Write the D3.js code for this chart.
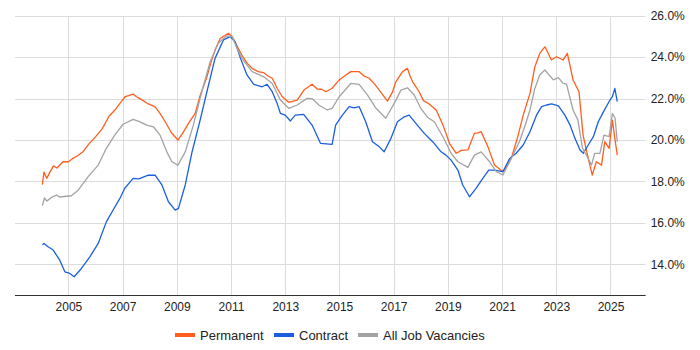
<!DOCTYPE html>
<html>
<head>
<meta charset="utf-8">
<script src="https://cdn.jsdelivr.net/npm/d3@7"></script>
<style>
  body { margin: 0; background: #fff; }
  svg { font-family: Arial, "Liberation Sans", sans-serif; }
</style>
</head>
<body>
<div id="chart"></div>
<script>
(function()
{
    var width = 700;
    var height = 350;

    // decimal year, percent
    var permanent = [[2004.04,17.85],[2004.1,18.45],[2004.2,18.15],[2004.3,18.4],[2004.45,18.75],[2004.58,18.65],[2004.8,18.95],[2005.0,18.95],[2005.15,19.1],[2005.35,19.25],[2005.55,19.45],[2005.75,19.8],[2006.0,20.15],[2006.25,20.55],[2006.5,21.15],[2006.75,21.5],[2006.95,21.85],[2007.1,22.1],[2007.39,22.22],[2007.5,22.1],[2007.7,21.95],[2007.95,21.74],[2008.2,21.6],[2008.4,21.25],[2008.57,20.88],[2008.8,20.35],[2009.04,20.0],[2009.2,20.3],[2009.43,20.8],[2009.68,21.3],[2009.86,22.15],[2010.1,23.0],[2010.25,23.7],[2010.41,24.34],[2010.6,24.9],[2010.9,25.15],[2011.04,25.0],[2011.2,24.6],[2011.4,24.1],[2011.6,23.7],[2011.78,23.46],[2012.0,23.3],[2012.21,23.25],[2012.35,23.1],[2012.52,22.98],[2012.7,22.5],[2012.89,22.09],[2013.13,21.82],[2013.44,21.93],[2013.69,22.41],[2013.99,22.69],[2014.18,22.46],[2014.35,22.45],[2014.5,22.33],[2014.73,22.5],[2014.99,22.9],[2015.2,23.1],[2015.42,23.3],[2015.73,23.3],[2015.9,23.1],[2016.1,22.98],[2016.3,22.7],[2016.47,22.41],[2016.77,21.88],[2016.95,22.3],[2017.08,22.81],[2017.33,23.3],[2017.51,23.46],[2017.6,23.1],[2017.7,22.81],[2017.94,22.33],[2018.1,21.9],[2018.3,21.75],[2018.57,21.45],[2018.82,20.72],[2019.06,19.84],[2019.31,19.36],[2019.5,19.5],[2019.74,19.52],[2019.98,20.32],[2020.1,20.35],[2020.23,20.4],[2020.48,19.67],[2020.72,18.79],[2021.03,18.47],[2021.2,18.8],[2021.34,19.11],[2021.58,20.16],[2021.78,21.2],[2022.03,22.25],[2022.21,23.54],[2022.39,24.18],[2022.58,24.5],[2022.7,24.2],[2022.82,23.86],[2023.01,24.02],[2023.25,23.86],[2023.41,24.18],[2023.62,22.9],[2023.84,22.33],[2023.99,20.24],[2024.18,19.11],[2024.33,18.31],[2024.48,18.95],[2024.67,18.79],[2024.79,19.92],[2024.95,19.6],[2025.07,20.96],[2025.16,20.08],[2025.25,19.27]];

    var contract = [[2004.04,14.95],[2004.1,15.01],[2004.25,14.85],[2004.44,14.69],[2004.68,14.2],[2004.87,13.64],[2005.05,13.56],[2005.21,13.4],[2005.48,13.8],[2005.79,14.36],[2006.1,15.01],[2006.4,16.05],[2006.65,16.62],[2006.9,17.18],[2007.08,17.67],[2007.39,18.15],[2007.6,18.12],[2007.95,18.31],[2008.2,18.3],[2008.45,17.83],[2008.69,17.02],[2008.94,16.62],[2009.06,16.7],[2009.31,17.83],[2009.55,19.36],[2009.86,20.96],[2010.11,22.33],[2010.41,23.94],[2010.72,24.83],[2010.97,24.99],[2011.15,24.74],[2011.35,23.94],[2011.59,23.14],[2011.84,22.69],[2012.15,22.57],[2012.33,22.69],[2012.52,22.33],[2012.7,21.77],[2012.82,21.29],[2013.0,21.2],[2013.19,20.92],[2013.37,21.2],[2013.68,21.24],[2013.99,20.72],[2014.3,19.84],[2014.73,19.79],[2014.86,20.72],[2015.11,21.2],[2015.36,21.61],[2015.54,21.55],[2015.73,21.61],[2015.97,20.88],[2016.22,19.92],[2016.47,19.67],[2016.65,19.43],[2016.9,20.08],[2017.14,20.88],[2017.39,21.12],[2017.57,21.2],[2017.82,20.8],[2018.13,20.32],[2018.3,20.1],[2018.44,19.92],[2018.75,19.43],[2018.93,19.27],[2019.12,19.03],[2019.37,18.55],[2019.55,17.83],[2019.8,17.26],[2020.04,17.67],[2020.29,18.15],[2020.51,18.55],[2020.72,18.55],[2021.03,18.47],[2021.28,19.11],[2021.52,19.36],[2021.78,19.76],[2022.03,20.4],[2022.27,21.2],[2022.46,21.61],[2022.64,21.69],[2022.83,21.75],[2023.08,21.65],[2023.32,21.2],[2023.51,20.72],[2023.69,20.08],[2023.88,19.52],[2024.0,19.36],[2024.18,19.76],[2024.37,20.16],[2024.55,20.88],[2024.74,21.36],[2024.98,21.93],[2025.07,22.09],[2025.16,22.49],[2025.25,21.85]];

    var allJobs = [[2004.04,16.83],[2004.12,17.21],[2004.2,17.05],[2004.4,17.25],[2004.56,17.34],[2004.68,17.25],[2005.11,17.31],[2005.36,17.58],[2005.73,18.23],[2006.1,18.79],[2006.4,19.6],[2006.71,20.24],[2007.02,20.76],[2007.39,21.0],[2007.6,20.9],[2007.89,20.72],[2008.14,20.64],[2008.38,20.24],[2008.63,19.43],[2008.82,18.95],[2009.04,18.79],[2009.31,19.43],[2009.61,20.72],[2009.92,22.33],[2010.23,23.78],[2010.53,24.67],[2010.84,25.03],[2011.04,24.99],[2011.2,24.5],[2011.4,23.94],[2011.78,23.3],[2012.21,23.05],[2012.52,22.73],[2012.82,21.93],[2013.13,21.53],[2013.44,21.69],[2013.81,22.01],[2013.99,22.0],[2014.24,21.69],[2014.55,21.45],[2014.73,21.53],[2014.99,22.09],[2015.42,22.73],[2015.73,22.69],[2016.04,22.17],[2016.35,21.53],[2016.71,21.05],[2017.02,21.77],[2017.27,22.41],[2017.51,22.52],[2017.76,22.17],[2018.0,21.53],[2018.25,21.1],[2018.5,20.88],[2018.82,20.16],[2019.12,19.36],[2019.37,18.95],[2019.74,18.68],[2019.98,19.27],[2020.23,19.43],[2020.54,18.95],[2020.79,18.47],[2021.03,18.31],[2021.34,19.11],[2021.64,19.92],[2021.85,20.7],[2022.03,21.45],[2022.21,22.49],[2022.39,23.14],[2022.58,23.38],[2022.89,22.9],[2023.08,23.01],[2023.25,22.73],[2023.38,22.7],[2023.62,21.45],[2023.8,20.96],[2023.97,19.6],[2024.18,19.11],[2024.3,18.79],[2024.42,19.36],[2024.61,19.36],[2024.76,20.24],[2024.95,20.16],[2025.07,21.29],[2025.17,21.05],[2025.25,19.92]];

    var xTickYears = [2005, 2007, 2009, 2011, 2013, 2015, 2017, 2019, 2021, 2023, 2025];
    var yTicks = [14, 16, 18, 20, 22, 24, 26];
    var seriesNames = ["Permanent", "Contract", "All Job Vacancies"];
    var seriesColors = ["#ff5e1f", "#1a5fe0", "#a3a3a3"];

    function toDate(t) {
        var yr = Math.floor(t);
        var start = new Date(yr, 0, 1), end = new Date(yr + 1, 0, 1);
        return new Date(start.getTime() + (t - yr) * (end - start));
    }

    var left = 15, right = 645.7, top = 15.7, bottom = 295;

    var svg = d3.select("#chart").append("svg")
        .attr("width", width)
        .attr("height", height);

    var x = d3.scaleTime()
        .domain([toDate(2003.03), toDate(2026.3)])
        .range([left, right]);

    var y = d3.scaleLinear()
        .domain([12.52, 26])
        .range([bottom, top]);

    // grid
    svg.append("g").selectAll("line.h").data(yTicks)
        .enter().append("line")
        .attr("x1", left).attr("x2", right)
        .attr("y1", function(d){ return Math.round(y(d)) + 0.5; })
        .attr("y2", function(d){ return Math.round(y(d)) + 0.5; })
        .attr("stroke", "#dcdcdc").attr("stroke-width", 1);

    svg.append("g").selectAll("line.v").data(xTickYears)
        .enter().append("line")
        .attr("x1", function(d){ return Math.round(x(new Date(d, 0, 1))) + 0.5; })
        .attr("x2", function(d){ return Math.round(x(new Date(d, 0, 1))) + 0.5; })
        .attr("y1", top).attr("y2", bottom)
        .attr("stroke", "#dcdcdc").attr("stroke-width", 1);

    // x axis
    var xAxis = d3.axisBottom(x)
        .tickValues(xTickYears.map(function(d){ return new Date(d, 0, 1); }))
        .tickFormat(d3.timeFormat("%Y"))
        .tickSize(0).tickPadding(7);
    var gx = svg.append("g").attr("transform", "translate(0," + bottom + ")").call(xAxis);
    gx.select(".domain").remove();
    gx.selectAll("text").attr("font-size", 12).attr("fill", "#222").attr("font-family", "Arial, 'Liberation Sans', sans-serif");
    svg.append("line")
        .attr("x1", left).attr("x2", right)
        .attr("y1", bottom + 0.5).attr("y2", bottom + 0.5)
        .attr("stroke", "#333").attr("stroke-width", 1);

    // y axis on the right
    var yAxis = d3.axisRight(y)
        .tickValues(yTicks)
        .tickFormat(function(d){ return d3.format(".1f")(d) + "%"; })
        .tickSize(0).tickPadding(5);
    var gy = svg.append("g").attr("transform", "translate(" + right + ",0)").call(yAxis);
    gy.select(".domain").remove();
    gy.selectAll("text").attr("font-size", 12).attr("fill", "#222").attr("font-family", "Arial, 'Liberation Sans', sans-serif");

    // lines
    var line = d3.line()
        .x(function(d){ return x(toDate(d[0])); })
        .y(function(d){ return y(d[1]); });

    [permanent, contract, allJobs].forEach(function(s, i) {
        svg.append("path")
            .datum(s)
            .attr("fill", "none")
            .attr("stroke", seriesColors[i])
            .attr("stroke-width", 1.3)
            .attr("stroke-linejoin", "round")
            .attr("d", line);
    });

    // legend
    var legendX = [175, 274, 358];
    var legend = svg.append("g").selectAll("g").data(seriesNames)
        .enter().append("g")
        .attr("transform", function(d, i){ return "translate(" + legendX[i] + ",335)"; });
    legend.append("rect")
        .attr("x", 0).attr("y", -2).attr("width", 20).attr("height", 4)
        .attr("fill", function(d, i){ return seriesColors[i]; });
    legend.append("text")
        .attr("x", 25).attr("y", 0).attr("dy", "0.35em")
        .attr("font-size", 13).attr("fill", "#222")
        .text(function(d){ return d; });

})();
</script>
</body>
</html>
